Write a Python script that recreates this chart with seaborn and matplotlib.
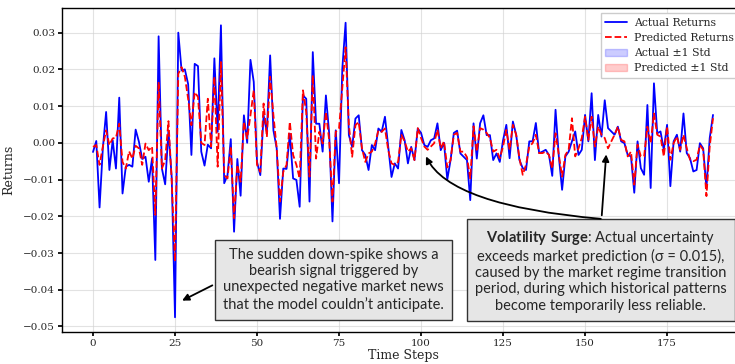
import numpy as np
import pandas as pd
import matplotlib
matplotlib.use('Agg')
import matplotlib.pyplot as plt
import matplotlib.patches as mpatches
from matplotlib.lines import Line2D
import seaborn as sns

# values
actual = [
    -0.0025, 0.0005, -0.0176, -0.0015, 0.0084, -0.0074, 0.0007, -0.007, 0.0123, -0.0138,
    -0.0065, -0.006, -0.0065, 0.0036, 0.0003, -0.0044, -0.0038, -0.0106, -0.0043, -0.0319,
    0.029, -0.007, -0.0113, 0.0034, -0.0095, -0.0475, 0.030, 0.0197, 0.020, 0.016,
    -0.0033, 0.0215, 0.0209, -0.0024, -0.0062, -0.0005, -0.0015, 0.023, 0.003, 0.032,
    -0.011, -0.0088, 0.001, -0.0242, -0.0044, -0.0144, 0.0075, 0.0, 0.0226, 0.0166,
    -0.0052, -0.0088, 0.0075, 0.003, 0.0238, 0.0034, -0.0015, -0.0207, -0.007, -0.0071,
    0.0025, -0.0097, -0.0101, -0.0174, 0.0129, 0.012, -0.016, 0.0247, 0.0052, 0.0052,
    -0.0024, 0.0129, 0.0025, -0.0214, 0.0034, -0.011, 0.0202, 0.0327, 0.0021, -0.0011,
    0.0066, 0.0075, -0.002, -0.0033, -0.0074, -0.0006, -0.002, 0.0039, 0.003, 0.0071,
    -0.0011, -0.0093, -0.0056, -0.007, 0.0035, 0.0007, -0.0056, -0.0011, -0.0047, 0.0039,
    0.0027, -0.0006, -0.0011, 0.0007, 0.0012, 0.0053, -0.002, 0.0, -0.01, -0.0047,
    0.0027, 0.0033, -0.0029, -0.0038, -0.0047, -0.0156, 0.0053, -0.0043, 0.0053, 0.0075,
    0.0021, 0.0021, -0.0047, -0.0029, -0.0052, 0.0007, 0.0049, -0.0042, 0.0058, 0.0022,
    -0.0047, -0.0069, -0.0074, 0.0004, 0.0004, 0.0054, -0.0028, -0.0024, -0.0019, -0.0033,
    -0.009, 0.009, -0.0037, -0.0128, -0.0037, -0.0024, 0.0004, 0.0031, -0.0033, -0.0019,
    0.0076, 0.0004, 0.0135, -0.0047, 0.0076, 0.0017, 0.0116, 0.004, 0.0031, 0.0022,
    0.0044, 0.0004, -0.0001, -0.0033, -0.0037, -0.0136, 0.0004, -0.0069, -0.0087, 0.0103,
    -0.0123, 0.0162, 0.0026, 0.0031, -0.0019, 0.0049, -0.0118, 0.0004, 0.0022, -0.0024,
    0.008, -0.0028, -0.0042, -0.0078, -0.0074, -0.0001, -0.0015, -0.0123, 0.0013, 0.0076,
]
predicted = [
    -0.0011, -0.0006, -0.006, -0.001, 0.0034, -0.0006, 0.0012, 0.0014, 0.0052, -0.0052,
    -0.007, -0.0023, -0.0043, -0.0008, -0.0015, -0.006, -0.0002, -0.002, -0.001, -0.0196,
    0.0166, -0.007, -0.0047, 0.0059, -0.0105, -0.0323, 0.0188, 0.0206, 0.018, 0.012,
    0.0048, 0.0138, 0.0125, 0.0, -0.0006, 0.012, -0.001, 0.018, -0.0065, 0.022,
    -0.0088, -0.0097, -0.001, -0.0205, -0.006, -0.0106, 0.0057, 0.0012, 0.0075, 0.0143,
    -0.006, -0.0079, 0.0107, 0.0016, 0.018, 0.0075, -0.0015, -0.016, -0.0079, -0.006,
    0.0057, -0.0033, -0.006, -0.0097, 0.0143, 0.0084, -0.0092, 0.0184, -0.0043, 0.003,
    -0.0002, 0.0084, 0.0007, -0.016, 0.003, 0.0039, 0.0148, 0.026, 0.0048, -0.0038,
    0.0048, 0.0057, -0.0015, -0.0052, -0.0029, -0.0024, -0.0002, 0.0034, 0.003, 0.0039,
    -0.002, -0.0056, -0.006, -0.0052, 0.0022, 0.0004, -0.0024, -0.0015, -0.0047, 0.004,
    0.0013, -0.001, -0.0019, -0.001, -0.0001, 0.0036, -0.0015, 0.0004, -0.0067, -0.0047,
    0.0022, 0.0027, -0.0024, -0.0024, -0.0039, -0.0097, 0.0045, -0.0024, 0.004, 0.0036,
    0.0027, 0.0013, -0.0024, -0.0019, -0.0042, -0.001, 0.0035, -0.0019, 0.0049, 0.0022,
    -0.0042, -0.0087, -0.006, -0.001, -0.0001, 0.0022, -0.0028, -0.0028, -0.0024, -0.0033,
    -0.007, 0.0026, -0.0033, -0.0092, -0.0033, -0.0019, 0.0067, -0.0037, -0.0015, 0.0013,
    0.0071, 0.0008, 0.0071, -0.001, 0.0044, 0.0022, 0.0013, -0.0015, 0.0004, 0.0022,
    0.0044, 0.0008, 0.0004, -0.0037, -0.0024, -0.0114, -0.0005, -0.0037, -0.0037, 0.0044,
    -0.0001, 0.008, 0.0022, 0.0017, -0.0037, 0.0044, -0.0046, -0.0001, 0.0017, -0.0019,
    0.0022, -0.0015, -0.0046, -0.005, -0.0046, -0.0006, -0.0019, -0.0145, -0.001, 0.0067,
]
steps = np.arange(len(actual))

legend_labels = ['Actual Returns', 'Predicted Returns', 'Actual \u00b11 Std', 'Predicted \u00b11 Std']
note_spike = ("The sudden down-spike shows a\nbearish signal triggered by\n"
              "unexpected negative market news\nthat the model couldn\u2019t anticipate.")
note_vol = (r"$\bf{Volatility\ Surge}$: Actual uncertainty" "\n"
            "exceeds market prediction (\u03c3 = 0.015),\n"
            "caused by the market regime transition\n"
            "period, during which historical patterns\n"
            "become temporarily less reliable.")

sns.set_theme(style='whitegrid')
plt.rcParams['font.family'] = ['DejaVu Serif']
plt.rcParams['mathtext.fontset'] = 'custom'
plt.rcParams['mathtext.bf'] = 'Lato:bold'
plt.rcParams['mathtext.rm'] = 'Lato'

df = pd.DataFrame({'step': steps, 'actual': actual, 'predicted': predicted})

fig = plt.figure(figsize=(7.35, 3.64), dpi=100)
ax = fig.add_axes([62 / 735, 32 / 364, 682 / 735, 324 / 364])

sns.lineplot(data=df, x='step', y='actual', color='#0000ff', linewidth=1.3, ax=ax)
sns.lineplot(data=df, x='step', y='predicted', color='red', linewidth=1.3,
             linestyle='--', ax=ax)

ax.set_facecolor('white')
ax.grid(True, color='#d0d0d0', alpha=0.6, linewidth=0.8)
for s in ax.spines.values():
    s.set_color('black')
    s.set_linewidth(1.0)
ax.tick_params(axis='both', labelsize=7.5, length=3, color='black', direction='out',
               bottom=True, left=True, pad=2)
ax.set_xlabel('Time Steps', fontsize=9, labelpad=1)
ax.set_ylabel('Returns', fontsize=9, labelpad=6)
ax.set_xticks([0, 25, 50, 75, 100, 125, 150, 175])

handles = [
    Line2D([], [], color='#0000ff', linewidth=1.3),
    Line2D([], [], color='red', linewidth=1.3, linestyle='--'),
    mpatches.Patch(facecolor='#0000ff', alpha=0.2, edgecolor='#0000ff'),
    mpatches.Patch(facecolor='red', alpha=0.2, edgecolor='red'),
]
ax.legend(handles, legend_labels, loc='upper right', bbox_to_anchor=(1.0, 1.0), fontsize=7.8,
          frameon=True, fancybox=False, edgecolor='#cccccc', framealpha=1,
          handlelength=2.0, handletextpad=0.7, borderpad=0.4, labelspacing=0.48)

box = dict(boxstyle='square,pad=0.55', facecolor='#e6e6e6', edgecolor='#333333', linewidth=1)
ax.annotate(note_spike, xy=(26.4, -0.0433), xytext=(73.4, -0.0373),
            ha='center', va='center', fontsize=10.5, family=['Lato', 'DejaVu Sans'],
            linespacing=1.2, bbox=box,
            arrowprops=dict(arrowstyle='-|>', color='black', lw=1.3, relpos=(0, 0.5),
                            mutation_scale=10))

ax.annotate(note_vol, xy=(156.5, -0.0024), xytext=(154.8, -0.0348),
            ha='center', va='center', fontsize=10.5, family=['Lato', 'DejaVu Sans'],
            linespacing=1.2, bbox=box,
            arrowprops=dict(arrowstyle='-|>', color='black', lw=1.3, relpos=(0.5, 1),
                            mutation_scale=10))
# second, curved arrow from the same box
ax.annotate('', xy=(101.5, -0.0037), xytext=(154.8, -0.0207),
            arrowprops=dict(arrowstyle='-|>', color='black', lw=1.3, mutation_scale=10,
                            connectionstyle='angle3,angleA=175,angleB=-64',
                            shrinkA=0, shrinkB=0))

fig.savefig('out.png', dpi=100)
